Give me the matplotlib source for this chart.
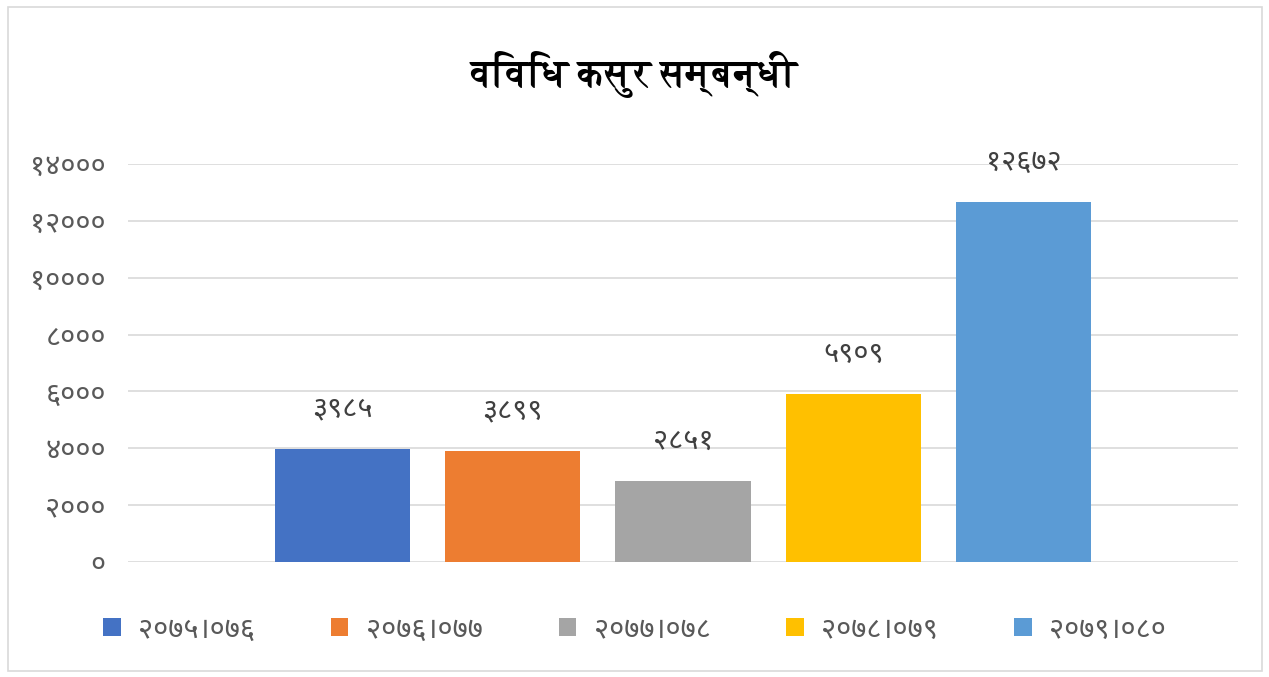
import matplotlib
matplotlib.use("Agg")
import matplotlib.pyplot as plt
from matplotlib.ticker import FuncFormatter, MultipleLocator
from matplotlib.patches import Rectangle

# ---- data ----
series_labels = ["२०७५।०७६", "२०७६।०७७", "२०७७।०७८", "२०७८।०७९", "२०७९।०८०"]
values = [3985, 3899, 2851, 5909, 12672]
colors = ["#4472C4", "#ED7D31", "#A5A5A5", "#FFC000", "#5B9BD5"]
title = "विविध कसुर सम्बन्धी"

plt.rcParams["font.family"] = ["Noto Sans Devanagari", "DejaVu Sans"]
plt.rcParams["font.weight"] = "light"

DIG = str.maketrans("0123456789", "०१२३४५६७८९")
def to_deva(n):
    return str(int(n)).translate(DIG)

W, H = 1269, 677
fig = plt.figure(figsize=(W / 100, H / 100), dpi=100)
fig.patches.append(Rectangle((8 / W, 6 / H), 1254 / W, 664 / H, transform=fig.transFigure,
                             fill=False, edgecolor="#D9D9D9", linewidth=1.2))

ax = fig.add_axes([128 / W, 1 - 562 / H, 1110 / W, 398 / H])
for i, (v, c, lab) in enumerate(zip(values, colors, series_labels)):
    ax.bar(i, v, width=0.794, color=c, label=lab, zorder=3)
    ax.text(i, v + 1400, to_deva(v), ha="center", va="center", fontsize=21, color="#404040")

ax.set_xlim(-1.26, 5.26)
ax.set_ylim(0, 14000)
ax.yaxis.set_major_locator(MultipleLocator(2000))
ax.yaxis.set_major_formatter(FuncFormatter(lambda v, p: to_deva(v)))
ax.set_xticks([])
ax.grid(axis="y", color="#D9D9D9", linewidth=1.2, zorder=0)
for s in ax.spines.values():
    s.set_visible(False)
ax.tick_params(axis="y", length=0, labelsize=21, labelcolor="#595959", pad=16)

fig.text(0.5, 1 - 74 / H, title, ha="center", va="center", fontsize=27, fontweight="bold",
         color="black", family=["FreeSerif", "DejaVu Sans"])

handles, labels = ax.get_legend_handles_labels()
fig.legend(handles, labels, loc="center", bbox_to_anchor=(0.5, 1 - 630 / H), ncol=5,
           frameon=False, fontsize=21, labelcolor="#595959", handlelength=0.6,
           handleheight=0.6, columnspacing=2.6, handletextpad=0.6)

fig.savefig("out.png", dpi=100)
